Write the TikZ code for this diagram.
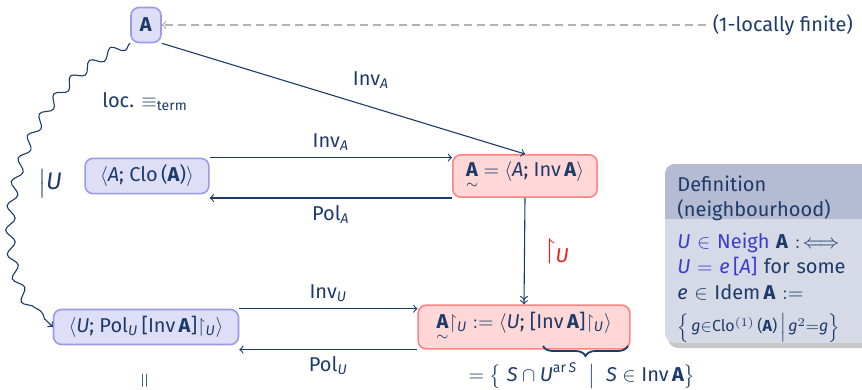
\documentclass[tikz,border=0pt]{standalone}
\usepackage{amsmath,amssymb}
\usepackage{fontspec}
\setmainfont{Fira Sans}
\usetikzlibrary{arrows, positioning, calc, decorations.pathmorphing, decorations.pathreplacing, shadows}
\definecolor{navy}{HTML}{1C3B6B}
\definecolor{bluefill}{HTML}{DEDEF6}
\definecolor{blueline}{HTML}{9A9AE8}
\definecolor{redfill}{HTML}{FFD7D7}
\definecolor{redline}{HTML}{FF8383}
\definecolor{defhead}{HTML}{B4BBD2}
\definecolor{defbody}{HTML}{D6DAE7}
\definecolor{neigh}{HTML}{3B3BD4}
\definecolor{restr}{HTML}{F01A1A}
\newcommand{\bA}{\textbf{A}}
\newcommand{\tA}{\ensuremath{\underset{\sim}{\textbf{A}}}}
\newcommand{\vi}[1]{\textit{#1}}
\newcommand{\rU}{\ensuremath{\restriction_{\textit{U}}}}

\begin{document}
\begin{tikzpicture}[x=0.5pt, y=-0.5pt, text=navy,
  bluebox/.style={rectangle, rounded corners=4pt, draw=blueline, fill=bluefill, line width=0.8pt, minimum height=17.5pt, inner xsep=7.5pt},
  redbox/.style={rectangle, rounded corners=4pt, draw=redline, fill=redfill, line width=0.8pt, minimum height=17.5pt, inner xsep=6.5pt},
  arrow/.style={->, >=to, color=navy, line width=0.55pt}
]
\useasboundingbox (0,0) rectangle (862,390);

% nodes
\node[bluebox, minimum width=15pt, inner xsep=1pt] (alg) at (146,25) {\bA};
\node[anchor=east] (lf) at (860,25) {(1-locally finite)};
\node (loc) at (145,102) {loc. $\equiv_{\text{term}}$};
\node[bluebox] (clo) at (147,176) {$\langle$\vi{A}; Clo\,(\bA)$\rangle$};
\node[redbox] (inv) at (525,176) {\tA{} $=$ $\langle$\vi{A}; Inv\,\bA$\rangle$};
\node[bluebox] (polu) at (146,327) {$\langle$\vi{U}; Pol$_{\textit{U}}$\,[Inv\,\bA]\rU$\rangle$};
\node[redbox, inner xsep=9pt] (res) at (524,327) {\tA\rU{} $:=$ $\langle$\vi{U}; [Inv\,\bA]\rU$\rangle$};
\node[rotate=90] (eqv) at (146,381) {$=$};

% connectors
\draw[->, >=to, gray!60, line width=0.6pt, dash pattern=on 4pt off 2.5pt] (lf.west) -- (alg.east);
\draw[arrow] (alg.south east) -- (inv.north);
\node at (371,80) {Inv$_{\textit{A}}$};
\draw[arrow, decorate, decoration={snake, amplitude=2.3pt, segment length=12pt, post length=5pt}]
  (alg.south west) .. controls (10,95) and (-15,265) .. (polu.west);
\node[font=\large] at (50,184) {$\big|$\vi{U}};
\draw[arrow] (clo.north east) -- (clo.north east -| inv.west) node[midway, above] {Inv$_{\textit{A}}$};
\draw[arrow] (inv.south west) -- (inv.south west -| clo.east) node[midway, below] {Pol$_{\textit{A}}$};
\draw[arrow, ->>] (inv.south) -- (res.north) node[midway, right=6pt, text=restr, font=\Large] {\rU};
\draw[arrow] (polu.north east) -- (polu.north east -| res.west) node[midway, above] {Inv$_{\textit{U}}$};
\draw[arrow] (res.south west) -- (res.south west -| polu.east) node[midway, below] {Pol$_{\textit{U}}$};

% brace
\draw[decorate, decoration={brace, mirror, amplitude=5pt}, navy, line width=0.9pt] (543,346) -- (628,346);
\node (gen) at (582,376) {$=\bigl\{\;\vi{S}\cap\vi{U}^{\text{ar}\,\textit{S}}\;\bigm|\;\vi{S}\in\text{Inv}\,\bA\bigr\}$};

% definition block
\path[fill=defbody, rounded corners=5pt, drop shadow={opacity=0.45, shadow xshift=1.5pt, shadow yshift=-2.5pt}] (665,164) rectangle (890,343);
\begin{scope}
  \clip[rounded corners=5pt] (665,164) rectangle (890,343);
  \fill[defhead] (665,164) rectangle (890,219);
\end{scope}
\node[anchor=north west, align=left, inner sep=0pt, font={\fontsize{10}{12.5}\selectfont}] (defh) at (677,175) {Definition\\(neighbourhood)};
\node[anchor=north west, align=left, inner sep=0pt, text width=100pt, font={\fontsize{10}{12.8}\selectfont}] (defx) at (677,232) {%
  {\color{neigh}\vi{U} $\in$ Neigh} \bA{} $:\!\iff$\\
  {\color{neigh}\vi{U} $=$ \vi{e}\,[\vi{A}]} for some\\
  \vi{e} $\in$ Idem\,\bA{} $:=$\\[3.5pt]
  {\footnotesize$\Bigl\{$\,\vi{g}$\in$Clo$^{(1)}$\,(\bA)\,$\Bigm|$\,\vi{g}$^2$$=$\vi{g}$\Bigr\}$}};
\end{tikzpicture}
\end{document}
